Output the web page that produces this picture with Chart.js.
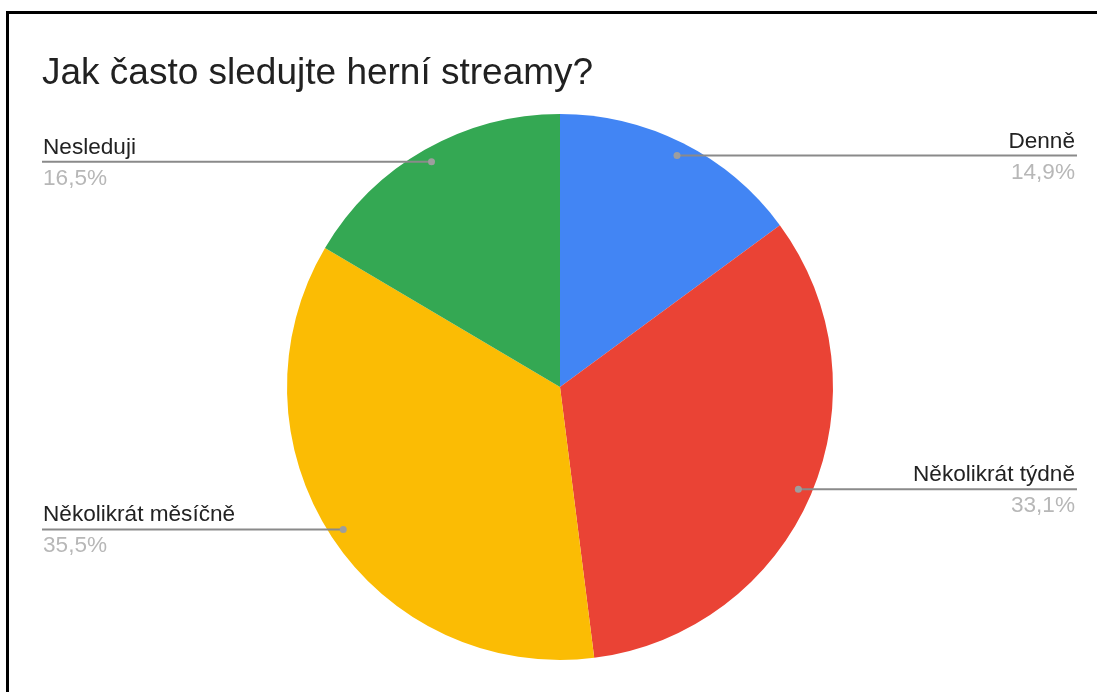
<!DOCTYPE html>
<html><head><meta charset="utf-8">
<script src="https://cdn.jsdelivr.net/npm/chart.js@4/dist/chart.umd.min.js"></script>
<style>html,body{margin:0;padding:0;background:#fff;overflow:hidden}
#wrap{position:absolute;left:0;top:0;width:1097px;height:692px}
</style></head><body>
<div id="wrap"><canvas id="c" width="1097" height="692"></canvas></div>
<script>
const chartTitle = 'Jak často sledujte herní streamy?';
const categories = ['Denně', 'Několikrát týdně', 'Několikrát měsíčně', 'Nesleduji'];
const values = [14.9, 33.1, 35.5, 16.5];
const percentLabels = ['14,9%', '33,1%', '35,5%', '16,5%'];
const colors = ['#4285F4', '#EA4335', '#FBBC04', '#34A853'];

const FONT = '"Liberation Sans", Arial, sans-serif';

const decor = {
  id: 'decor',
  afterDraw(chart) {
    const ctx = chart.ctx;
    ctx.save();
    // frame
    ctx.fillStyle = '#000';
    ctx.fillRect(6, 11, 3, 692);
    ctx.fillRect(6, 11, 1097, 3);
    // title
    ctx.fillStyle = '#212121';
    ctx.font = '37px ' + FONT;
    ctx.textAlign = 'left';
    ctx.textBaseline = 'alphabetic';
    ctx.fillText(chartTitle, 42, 84);
    // labels
    const meta = chart.getDatasetMeta(0);
    meta.data.forEach((arc, i) => {
      const p = arc.getProps(['x', 'y', 'startAngle', 'endAngle', 'outerRadius'], true);
      const mid = (p.startAngle + p.endAngle) / 2;
      const px = p.x + Math.cos(mid) * p.outerRadius * 0.95;
      const py = p.y + Math.sin(mid) * p.outerRadius * 0.95;
      const right = Math.cos(mid) >= 0;
      const endX = right ? 1077 : 42;
      ctx.strokeStyle = '#8a8a8a';
      ctx.lineWidth = 2;
      ctx.beginPath();
      ctx.moveTo(px, py);
      ctx.lineTo(endX, py);
      ctx.stroke();
      ctx.fillStyle = '#9e9e9e';
      ctx.beginPath();
      ctx.arc(px, py, 3.5, 0, Math.PI * 2);
      ctx.fill();
      ctx.font = '22.6px ' + FONT;
      ctx.textAlign = right ? 'right' : 'left';
      const tx = right ? 1075 : 43;
      ctx.fillStyle = '#222';
      ctx.fillText(categories[i], tx, py - 8);
      ctx.fillStyle = '#b7b7b7';
      ctx.fillText(percentLabels[i], tx, py + 23);
    });
    ctx.restore();
  }
};

new Chart(document.getElementById('c'), {
  type: 'pie',
  data: {
    labels: categories,
    datasets: [{
      data: values,
      backgroundColor: colors,
      borderWidth: 0,
      hoverOffset: 0
    }]
  },
  options: {
    responsive: false,
    animation: false,
    devicePixelRatio: 1,
    layout: { padding: { top: 114, bottom: 32, left: 287, right: 264 } },
    plugins: { legend: { display: false }, tooltip: { enabled: false }, title: { display: false } }
  },
  plugins: [decor]
});
</script>
</body></html>
